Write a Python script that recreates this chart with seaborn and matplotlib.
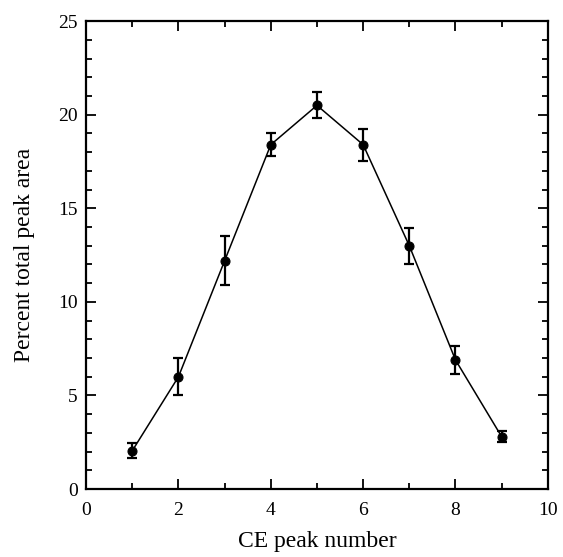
import matplotlib
matplotlib.use("Agg")
import matplotlib.pyplot as plt
from matplotlib.ticker import MultipleLocator
import seaborn as sns
import pandas as pd

# values
peak_number = [1, 2, 3, 4, 5, 6, 7, 8, 9]
percent_area = [2.05, 6.0, 12.2, 18.4, 20.5, 18.4, 13.0, 6.9, 2.8]
percent_err = [0.4, 1.0, 1.3, 0.6, 0.7, 0.85, 0.95, 0.76, 0.31]

sns.set_theme(style="ticks")
plt.rcParams['font.family'] = ['Liberation Serif', 'DejaVu Serif']
plt.rcParams['text.color'] = 'black'
plt.rcParams['axes.labelcolor'] = 'black'
plt.rcParams['xtick.color'] = 'black'
plt.rcParams['ytick.color'] = 'black'

df = pd.DataFrame({'peak': peak_number, 'area': percent_area, 'err': percent_err})

fig, ax = plt.subplots(figsize=(5.63, 5.57), dpi=100)
fig.subplots_adjust(left=0.153, right=0.973, top=0.962, bottom=0.122)

sns.lineplot(data=df, x='peak', y='area', ax=ax, color='black', lw=1.1,
             marker='o', markersize=6.5, markeredgecolor='black')
ax.errorbar(df['peak'], df['area'], yerr=df['err'], fmt='none',
            ecolor='black', elinewidth=1.6, capsize=3.6, capthick=1.6)

ax.set_xlim(0, 10)
ax.set_ylim(0, 25)
ax.xaxis.set_major_locator(MultipleLocator(2))
ax.xaxis.set_minor_locator(MultipleLocator(1))
ax.yaxis.set_major_locator(MultipleLocator(5))
ax.yaxis.set_minor_locator(MultipleLocator(1))
ax.tick_params(which='both', direction='in', top=True, right=True,
               labelsize=14, width=1.3)
ax.tick_params(which='major', length=7, pad=6)
ax.tick_params(axis='x', which='major', pad=9)
ax.tick_params(which='minor', length=4)
for s in ax.spines.values():
    s.set_linewidth(1.6)
    s.set_color('black')

ax.set_xlabel('CE peak number', fontsize=17, labelpad=9)
ax.set_ylabel('Percent total peak area', fontsize=17, labelpad=17)

fig.savefig('out.png', dpi=100)
